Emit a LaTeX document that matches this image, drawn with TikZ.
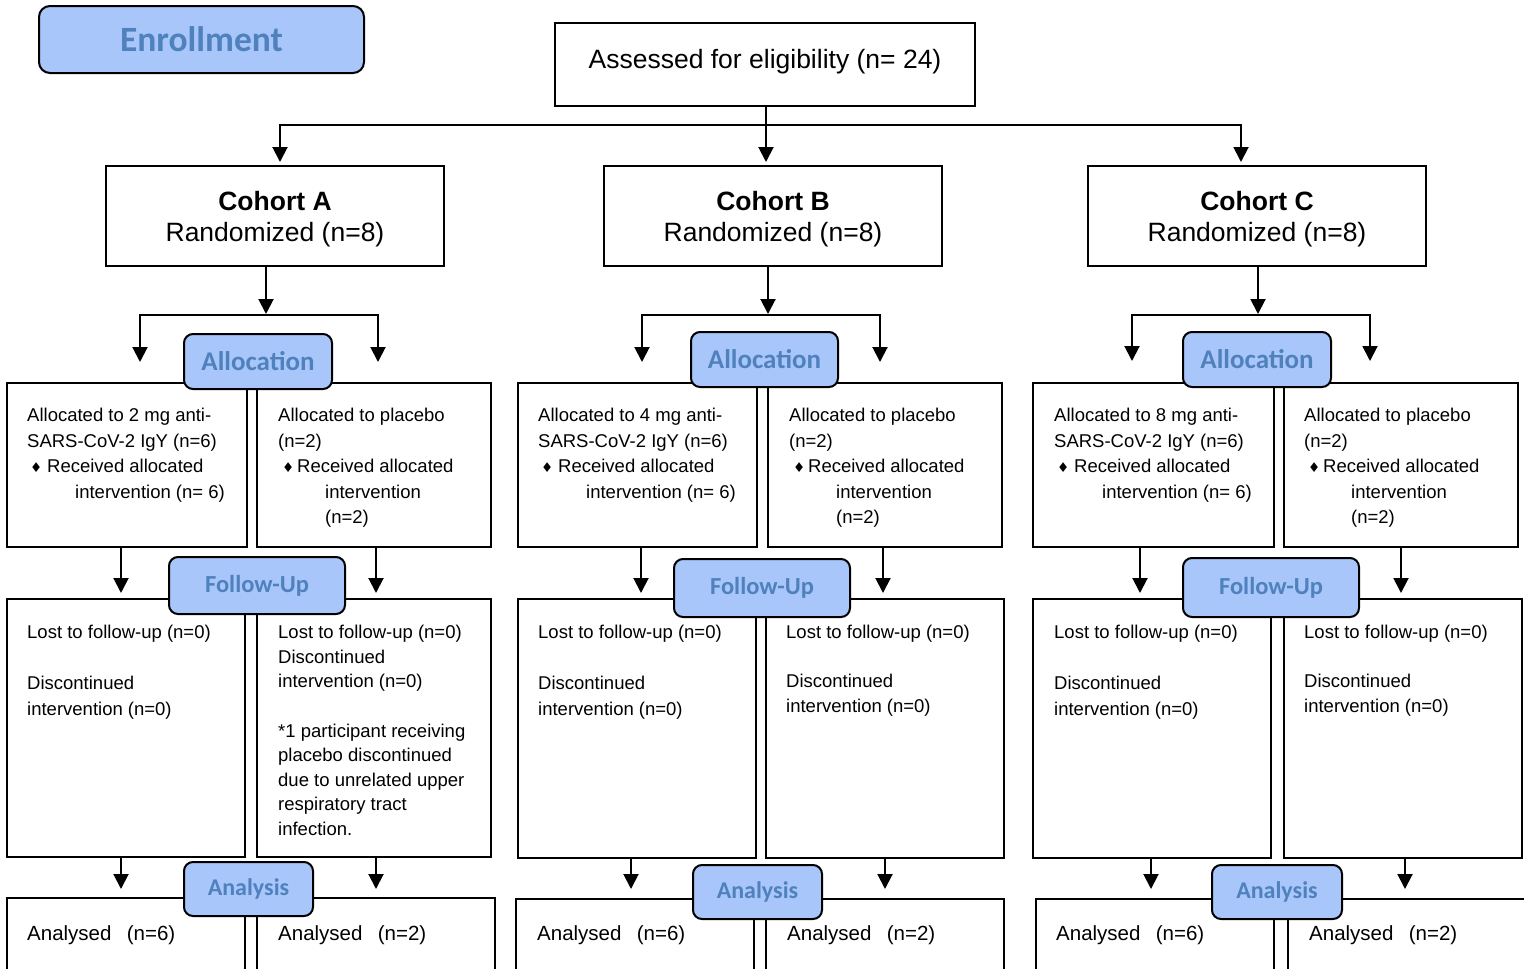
\documentclass[tikz,border=0pt]{standalone}
\usepackage{fontspec}
\setmainfont{Liberation Sans}
\newfontfamily\phasefont{Carlito}
\newfontfamily\symfont{DejaVu Sans}
\usetikzlibrary{arrows.meta}
\definecolor{phasefill}{RGB}{168,198,250}
\definecolor{phasetext}{RGB}{79,129,189}
\newcommand\bodyfont{\fontsize{18.5}{25.5}\selectfont}
\newcommand\dmdA{\hspace*{3pt}\makebox[17pt][l]{\symfont\fontsize{13.5}{14}\selectfont ♦}}
\newcommand\dmdB{\hspace*{4pt}\makebox[15pt][l]{\symfont\fontsize{13.5}{14}\selectfont ♦}}
\begin{document}
\begin{tikzpicture}[x=1pt,y=-1pt,
  box/.style={draw, line width=2pt, inner sep=0pt, outer sep=0pt, anchor=north west},
  wh/.style 2 args={minimum width=#1, minimum height=#2},
  phase/.style={box, fill=phasefill, rounded corners=9pt, text=phasetext},
  txt/.style={anchor=north west, inner sep=0pt, align=left, font=\bodyfont},
  ln/.style={line width=2pt},
  arr/.style={ln, -{Triangle[width=15pt,length=15pt]}},
  darr/.style={ln, line join=miter, {Triangle[width=15pt,length=15pt]}-{Triangle[width=15pt,length=15pt]}},
]
\useasboundingbox (0,0) rectangle (1524,969);
\clip (0,0) rectangle (1524,969);

% top
\node[box, wh={420}{83}, font=\fontsize{26.5}{31}\selectfont, text height=19pt, text depth=11pt] (top) at (555,23) {Assessed for eligibility (n= 24)};

% cohorts
\node[box, wh={338}{100}, align=center, font=\fontsize{26.5}{31}\selectfont] (cohA) at (106,166) {\rule{0pt}{25pt}\textbf{Cohort A}\\Randomized (n=8)};
\node[box, wh={338}{100}, align=center, font=\fontsize{26.5}{31}\selectfont] (cohB) at (604,166) {\rule{0pt}{25pt}\textbf{Cohort B}\\Randomized (n=8)};
\node[box, wh={338}{100}, align=center, font=\fontsize{26.5}{31}\selectfont] (cohC) at (1088,166) {\rule{0pt}{25pt}\textbf{Cohort C}\\Randomized (n=8)};

% allocation boxes
\node[box, wh={240}{164}] (aAL) at (7,383) {};
\node[box, wh={234}{164}] (aAR) at (257,383) {};
\node[box, wh={239}{164}] (aBL) at (518,383) {};
\node[box, wh={234}{164}] (aBR) at (768,383) {};
\node[box, wh={241}{164}] (aCL) at (1033,383) {};
\node[box, wh={234}{164}] (aCR) at (1284,383) {};

\node[txt] (aALt) at (27,408) {Allocated to 2 mg anti-\\SARS-CoV-2 IgY (n=6)\\\dmdA Received allocated\\\hspace*{48pt}intervention (n= 6)};
\node[txt] (aARt) at (278,408) {Allocated to placebo\\(n=2)\\\dmdB Received allocated\\\hspace*{47pt}intervention\\\hspace*{47pt}(n=2)};
\node[txt] (aBLt) at (538,408) {Allocated to 4 mg anti-\\SARS-CoV-2 IgY (n=6)\\\dmdA Received allocated\\\hspace*{48pt}intervention (n= 6)};
\node[txt] (aBRt) at (789,408) {Allocated to placebo\\(n=2)\\\dmdB Received allocated\\\hspace*{47pt}intervention\\\hspace*{47pt}(n=2)};
\node[txt] (aCLt) at (1054,408) {Allocated to 8 mg anti-\\SARS-CoV-2 IgY (n=6)\\\dmdA Received allocated\\\hspace*{48pt}intervention (n= 6)};
\node[txt] (aCRt) at (1304,408) {Allocated to placebo\\(n=2)\\\dmdB Received allocated\\\hspace*{47pt}intervention\\\hspace*{47pt}(n=2)};

% follow-up boxes
\node[box, wh={238}{258}] (fAL) at (7,599) {};
\node[box, wh={234}{258}] (fAR) at (257,599) {};
\node[box, wh={238}{259}] (fBL) at (518,599) {};
\node[box, wh={238}{259}] (fBR) at (766,599) {};
\node[box, wh={238}{259}] (fCL) at (1033,599) {};
\node[box, wh={238}{259}] (fCR) at (1284,599) {};

\node[txt] (fALt) at (27,625) {Lost to follow-up (n=0)\\[25.5pt]Discontinued\\intervention (n=0)};
\node[txt, font=\fontsize{18.5}{24.6}\selectfont] (fARt) at (278,625) {Lost to follow-up (n=0)\\Discontinued\\intervention (n=0)\\[24.6pt]*1 participant receiving\\placebo discontinued\\due to unrelated upper\\respiratory tract\\infection.};
\node[txt] (fBLt) at (538,625) {Lost to follow-up (n=0)\\[25.5pt]Discontinued\\intervention (n=0)};
\node[txt, font=\fontsize{18.5}{24.5}\selectfont] (fBRt) at (786,625) {Lost to follow-up (n=0)\\[24.5pt]Discontinued\\intervention (n=0)};
\node[txt] (fCLt) at (1054,625) {Lost to follow-up (n=0)\\[25.5pt]Discontinued\\intervention (n=0)};
\node[txt, font=\fontsize{18.5}{24.5}\selectfont] (fCRt) at (1304,625) {Lost to follow-up (n=0)\\[24.5pt]Discontinued\\intervention (n=0)};

% analysis boxes
\node[box, wh={238}{100}] (nAL) at (7,898) {};
\node[box, wh={238}{100}] (nAR) at (257,898) {};
\node[box, wh={238}{100}] (nBL) at (516,899) {};
\node[box, wh={238}{100}] (nBR) at (766,899) {};
\node[box, wh={238}{100}] (nCL) at (1036,899) {};
\node[box, wh={260}{100}] (nCR) at (1288,899) {};

\node[txt, font=\fontsize{20.5}{25}\selectfont] (nALt) at (27,925) {Analysed\hspace{0.75em}(n=6)};
\node[txt, font=\fontsize{20.5}{25}\selectfont] (nARt) at (278,925) {Analysed\hspace{0.75em}(n=2)};
\node[txt, font=\fontsize{20.5}{25}\selectfont] (nBLt) at (537,925) {Analysed\hspace{0.75em}(n=6)};
\node[txt, font=\fontsize{20.5}{25}\selectfont] (nBRt) at (787,925) {Analysed\hspace{0.75em}(n=2)};
\node[txt, font=\fontsize{20.5}{25}\selectfont] (nCLt) at (1056,925) {Analysed\hspace{0.75em}(n=6)};
\node[txt, font=\fontsize{20.5}{25}\selectfont] (nCRt) at (1309,925) {Analysed\hspace{0.75em}(n=2)};

% connectors: enrollment to cohorts
\coordinate (jT) at (766,125);
\coordinate (tA) at (280,162);
\coordinate (tB) at (766,162);
\coordinate (tC) at (1241,162);
\draw[arr] (top.south -| tB) -- (tB);
\draw[darr] (tA) -- (tA |- jT) -- (tC |- jT) -- (tC);

% cohorts to allocation
\coordinate (sA) at (266,314);
\coordinate (sB) at (768,314);
\coordinate (sC) at (1258,314);
\coordinate (tAL) at (140,362);
\coordinate (tAR) at (378,362);
\coordinate (tBL) at (642,362);
\coordinate (tBR) at (880,362);
\coordinate (tCL) at (1132,361);
\coordinate (tCR) at (1370,361);
\draw[arr] (cohA.south -| sA) -- (sA);
\draw[arr] (cohB.south -| sB) -- (sB);
\draw[arr] (cohC.south -| sC) -- (sC);
\draw[darr] (tAL) -- ([yshift=-1pt]tAL |- sA) -- ([yshift=-1pt]tAR |- sA) -- (tAR);
\draw[darr] (tBL) -- ([yshift=-1pt]tBL |- sB) -- ([yshift=-1pt]tBR |- sB) -- (tBR);
\draw[darr] (tCL) -- ([yshift=-1pt]tCL |- sC) -- ([yshift=-1pt]tCR |- sC) -- (tCR);

% allocation to follow-up
\coordinate (uAL) at (121,593);
\coordinate (uAR) at (376,593);
\coordinate (uBL) at (641,593);
\coordinate (uBR) at (883,593);
\coordinate (uCL) at (1140,593);
\coordinate (uCR) at (1401,593);
\draw[arr] (aAL.south -| uAL) -- (uAL);
\draw[arr] (aAR.south -| uAR) -- (uAR);
\draw[arr] (aBL.south -| uBL) -- (uBL);
\draw[arr] (aBR.south -| uBR) -- (uBR);
\draw[arr] (aCL.south -| uCL) -- (uCL);
\draw[arr] (aCR.south -| uCR) -- (uCR);

% follow-up to analysis
\coordinate (vAL) at (121,889);
\coordinate (vAR) at (376,889);
\coordinate (vBL) at (631,889);
\coordinate (vBR) at (885,889);
\coordinate (vCL) at (1151,889);
\coordinate (vCR) at (1405,889);
\draw[arr] (fAL.south -| vAL) -- (vAL);
\draw[arr] (fAR.south -| vAR) -- (vAR);
\draw[arr] (fBL.south -| vBL) -- (vBL);
\draw[arr] (fBR.south -| vBR) -- (vBR);
\draw[arr] (fCL.south -| vCL) -- (vCL);
\draw[arr] (fCR.south -| vCR) -- (vCR);

% phase labels
\node[phase, wh={325}{67}, rounded corners=11pt, font=\phasefont\bfseries\fontsize{35.5}{40}\selectfont] (enr) at (39,6) {Enrollment};
\node[phase, wh={148}{55}, font=\phasefont\bfseries\fontsize{27}{30}\selectfont] (alA) at (184,334) {Allocation};
\node[phase, wh={147}{55}, font=\phasefont\bfseries\fontsize{27}{30}\selectfont] (alB) at (691,332) {Allocation};
\node[phase, wh={148}{55}, font=\phasefont\bfseries\fontsize{27}{30}\selectfont] (alC) at (1183,332) {Allocation};
\node[phase, wh={176}{57}, font=\phasefont\bfseries\fontsize{24.5}{28}\selectfont] (fuA) at (169,557) {Follow-Up};
\node[phase, wh={176}{58}, font=\phasefont\bfseries\fontsize{24.5}{28}\selectfont] (fuB) at (674,559) {Follow-Up};
\node[phase, wh={176}{59}, font=\phasefont\bfseries\fontsize{24.5}{28}\selectfont] (fuC) at (1183,558) {Follow-Up};
\node[phase, wh={129}{54}, font=\phasefont\bfseries\fontsize{24}{28}\selectfont] (anA) at (184,862) {Analysis};
\node[phase, wh={129}{54}, font=\phasefont\bfseries\fontsize{24}{28}\selectfont] (anB) at (693,865) {Analysis};
\node[phase, wh={130}{54}, font=\phasefont\bfseries\fontsize{24}{28}\selectfont] (anC) at (1212,865) {Analysis};
\end{tikzpicture}
\end{document}
